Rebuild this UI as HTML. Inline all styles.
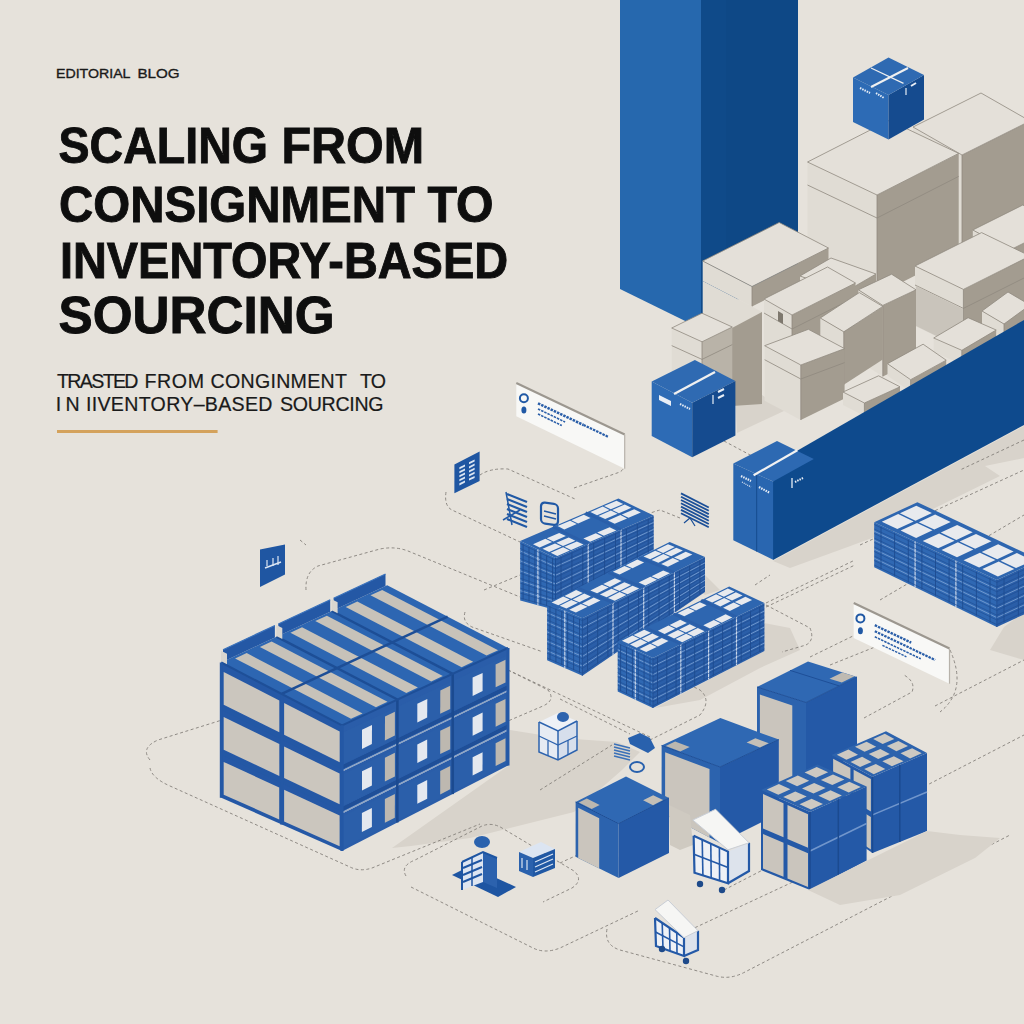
<!DOCTYPE html>
<html><head><meta charset="utf-8"><style>
html,body{margin:0;padding:0;background:#E6E2DB;}
body{width:1024px;height:1024px;overflow:hidden;position:relative;}
svg{position:absolute;left:0;top:0;}
</style></head><body>
<svg width="1024" height="1024" viewBox="0 0 1024 1024">
<rect width="1024" height="1024" fill="#E6E2DB"/>
<polygon points="392.0,848.0 508.0,766.0 510.0,730.0 560.0,738.0 617.0,742.0 640.0,752.0 622.0,770.0 574.0,812.0 470.0,838.0 411.0,846.0" fill="#D8D3CB" />
<polygon points="653.0,556.0 705.0,575.0 720.0,590.0 705.0,595.0" fill="#D8D3CB" />
<polygon points="735.6,402.8 762.0,395.0 785.0,410.5 737.0,433.0" fill="#D8D3CB" />
<polygon points="764.0,623.0 790.0,628.0 800.0,650.0 760.0,668.0 700.0,700.0 655.0,708.0 764.0,651.0" fill="#D8D3CB" />
<polygon points="773.0,561.0 1024.0,426.0 1024.0,458.0 985.0,466.0 1000.0,476.0 880.0,535.0 845.0,548.0 790.0,568.0" fill="#D8D3CB" />
<polygon points="1004.0,627.0 1024.0,612.0 1024.0,660.0 990.0,650.0" fill="#D8D3CB" />
<path d="M480,475 Q490,468 508,469 L575,499" fill="none" stroke="#85807A" stroke-width="0.9" stroke-dasharray="3 2.5"/>
<path d="M446,492 Q444,506 452,510 L520,542" fill="none" stroke="#85807A" stroke-width="0.9" stroke-dasharray="3 2.5"/>
<path d="M574,488 L620,472 Q626,468 624,462" fill="none" stroke="#85807A" stroke-width="0.9" stroke-dasharray="3 2.5"/>
<path d="M306,590 Q305,572 318,566 L380,549 Q395,546 408,551 L520,597" fill="none" stroke="#85807A" stroke-width="0.9" stroke-dasharray="3 2.5"/>
<path d="M484,590 L520,575" fill="none" stroke="#85807A" stroke-width="0.9" stroke-dasharray="3 2.5"/>
<path d="M465,612 Q462,622 472,627 L543,652" fill="none" stroke="#85807A" stroke-width="0.9" stroke-dasharray="3 2.5"/>
<path d="M508,670 L548,690 Q556,700 543,706 L508,721" fill="none" stroke="#85807A" stroke-width="0.9" stroke-dasharray="3 2.5"/>
<path d="M508,670 L650,737" fill="none" stroke="#85807A" stroke-width="0.9" stroke-dasharray="3 2.5"/>
<path d="M300,540 L306,545" fill="none" stroke="#85807A" stroke-width="0.9" stroke-dasharray="3 2.5"/>
<path d="M150,760 Q140,748 158,740 L222,720" fill="none" stroke="#85807A" stroke-width="0.9" stroke-dasharray="3 2.5"/>
<path d="M150,768 Q152,778 170,786 L350,867 Q360,872 372,868 L480,824" fill="none" stroke="#85807A" stroke-width="0.9" stroke-dasharray="3 2.5"/>
<path d="M406,876 Q400,866 415,860 L482,826 Q492,822 502,828 L574,871 Q584,880 572,888 L543,902" fill="none" stroke="#85807A" stroke-width="0.9" stroke-dasharray="3 2.5"/>
<path d="M411,887 L533,948 Q545,954 560,948 L640,910" fill="none" stroke="#85807A" stroke-width="0.9" stroke-dasharray="3 2.5"/>
<path d="M560,699 L630,734" fill="none" stroke="#85807A" stroke-width="0.9" stroke-dasharray="3 2.5"/>
<path d="M540,790 L612,745" fill="none" stroke="#85807A" stroke-width="0.9" stroke-dasharray="3 2.5"/>
<path d="M560,863 L610,840" fill="none" stroke="#85807A" stroke-width="0.9" stroke-dasharray="3 2.5"/>
<path d="M607,929 Q604,945 620,950 L716,976 Q730,980 745,972 L1010,835" fill="none" stroke="#85807A" stroke-width="0.9" stroke-dasharray="3 2.5"/>
<path d="M690,930 L840,860" fill="none" stroke="#85807A" stroke-width="0.9" stroke-dasharray="3 2.5"/>
<path d="M724,890 L1024,735" fill="none" stroke="#85807A" stroke-width="0.9" stroke-dasharray="3 2.5"/>
<path d="M864,718 L912,692 Q916,682 904,675" fill="none" stroke="#85807A" stroke-width="0.9" stroke-dasharray="3 2.5"/>
<path d="M935,706 L1024,660" fill="none" stroke="#85807A" stroke-width="0.9" stroke-dasharray="3 2.5"/>
<path d="M950,650 Q968,690 940,712" fill="none" stroke="#85807A" stroke-width="0.9" stroke-dasharray="3 2.5"/>
<path d="M680,518 L660,510 Q640,515 600,540" fill="none" stroke="#85807A" stroke-width="0.9" stroke-dasharray="3 2.5"/>
<path d="M755,585 L770,575" fill="none" stroke="#85807A" stroke-width="0.9" stroke-dasharray="3 2.5"/>
<path d="M880,600 L1024,515" fill="none" stroke="#85807A" stroke-width="0.9" stroke-dasharray="3 2.5"/>
<path d="M766,603 L855,560" fill="none" stroke="#85807A" stroke-width="0.9" stroke-dasharray="3 2.5"/>
<path d="M766,607 L855,565" fill="none" stroke="#85807A" stroke-width="0.9" stroke-dasharray="3 2.5"/>
<path d="M766,605 L810,628 Q815,640 806,645 L782,652" fill="none" stroke="#85807A" stroke-width="0.9" stroke-dasharray="3 2.5"/>
<path d="M810,657 L855,635" fill="none" stroke="#85807A" stroke-width="0.9" stroke-dasharray="3 2.5"/>
<path d="M830,665 L875,647" fill="none" stroke="#85807A" stroke-width="0.9" stroke-dasharray="3 2.5"/>
<path d="M640,745 L700,715 Q712,700 700,690 L680,680" fill="none" stroke="#85807A" stroke-width="0.9" stroke-dasharray="3 2.5"/>
<path d="M724,441 L752,456" fill="none" stroke="#85807A" stroke-width="0.9" stroke-dasharray="3 2.5"/>
<path d="M860,545 L1024,470" fill="none" stroke="#85807A" stroke-width="0.9" stroke-dasharray="3 2.5"/>
<path d="M1024,440 L960,470" fill="none" stroke="#85807A" stroke-width="0.9" stroke-dasharray="3 2.5"/>
<path d="M645,830 L700,800" fill="none" stroke="#85807A" stroke-width="0.9" stroke-dasharray="3 2.5"/>
<polygon points="620.0,0.0 701.0,0.0 701.0,328.7 620.0,289.0" fill="#2668AE" />
<polygon points="701.0,0.0 798.0,0.0 798.0,266.0 701.0,320.0" fill="#0F4A89" />
<polygon points="726.0,0.0 798.0,0.0 798.0,266.0 726.0,306.0" fill="#0E4886" />
<polygon points="913.0,127.0 962.0,155.0 962.0,250.0 913.0,222.0" fill="#E0DCD4" />
<polygon points="962.0,155.0 1030.0,121.0 1030.0,216.0 962.0,250.0" fill="#A39C90" />
<polygon points="913.0,127.0 981.0,93.0 1030.0,121.0 962.0,155.0" fill="#E4E0D9" />
<polyline points="913.0,127.0 981.0,93.0 1030.0,121.0 962.0,155.0 913.0,127.0" fill="none" stroke="#8F897F" stroke-width="0.8" />
<polyline points="962.0,155.0 962.0,250.0" fill="none" stroke="#8F897F" stroke-width="0.8" />
<polygon points="807.5,162.0 877.0,195.0 877.0,295.0 807.5,262.0" fill="#E0DCD4" />
<polygon points="877.0,195.0 958.7,153.4 958.7,253.4 877.0,295.0" fill="#A39C90" />
<polygon points="807.5,162.0 889.2,120.4 958.7,153.4 877.0,195.0" fill="#E4E0D9" />
<polyline points="807.5,162.0 889.2,120.4 958.7,153.4 877.0,195.0 807.5,162.0" fill="none" stroke="#8F897F" stroke-width="0.8" />
<polyline points="877.0,195.0 877.0,295.0" fill="none" stroke="#8F897F" stroke-width="0.8" />
<polyline points="807.5,185.0 877.0,218.0 958.7,176.4" fill="none" stroke="#8F897F" stroke-width="0.8" />
<polygon points="972.8,230.0 1010.0,250.0 1010.0,290.0 972.8,270.0" fill="#E0DCD4" />
<polygon points="1010.0,250.0 1060.0,225.0 1060.0,265.0 1010.0,290.0" fill="#A39C90" />
<polygon points="972.8,230.0 1022.8,205.0 1060.0,225.0 1010.0,250.0" fill="#E4E0D9" />
<polyline points="972.8,230.0 1022.8,205.0 1060.0,225.0 1010.0,250.0 972.8,230.0" fill="none" stroke="#8F897F" stroke-width="0.8" />
<polyline points="1010.0,250.0 1010.0,290.0" fill="none" stroke="#8F897F" stroke-width="0.8" />
<polygon points="915.0,266.0 963.4,289.4 963.4,349.4 915.0,326.0" fill="#E0DCD4" />
<polygon points="963.4,289.4 1030.0,256.0 1030.0,316.0 963.4,349.4" fill="#A39C90" />
<polygon points="915.0,266.0 981.6,232.6 1030.0,256.0 963.4,289.4" fill="#E4E0D9" />
<polyline points="915.0,266.0 981.6,232.6 1030.0,256.0 963.4,289.4 915.0,266.0" fill="none" stroke="#8F897F" stroke-width="0.8" />
<polyline points="963.4,289.4 963.4,349.4" fill="none" stroke="#8F897F" stroke-width="0.8" />
<polyline points="915.0,285.0 963.4,308.4 1030.0,275.0" fill="none" stroke="#8F897F" stroke-width="0.8" />
<polygon points="916.0,286.0 963.0,309.0 963.0,349.0 916.0,326.0" fill="#C9C4BB" />
<polygon points="702.7,261.0 752.0,286.5 752.0,306.5 702.7,281.0" fill="#E0DCD4" />
<polygon points="752.0,286.5 828.5,248.0 828.5,268.0 752.0,306.5" fill="#A39C90" />
<polygon points="702.7,261.0 779.2,222.5 828.5,248.0 752.0,286.5" fill="#E4E0D9" />
<polyline points="702.7,261.0 779.2,222.5 828.5,248.0 752.0,286.5 702.7,261.0" fill="none" stroke="#8F897F" stroke-width="0.8" />
<polyline points="752.0,286.5 752.0,306.5" fill="none" stroke="#8F897F" stroke-width="0.8" />
<polygon points="702.7,281.0 752.0,306.5 762.0,312.0 762.0,404.0 702.7,404.0" fill="#E0DCD4" />
<polygon points="732.0,328.0 762.0,312.0 762.0,404.0 732.0,406.0" fill="#A39C90" />
<polygon points="800.0,276.0 845.0,292.0 845.0,322.0 800.0,306.0" fill="#E0DCD4" />
<polygon points="845.0,292.0 876.0,274.0 876.0,304.0 845.0,322.0" fill="#A39C90" />
<polygon points="800.0,276.0 831.0,258.0 876.0,274.0 845.0,292.0" fill="#E4E0D9" />
<polyline points="800.0,276.0 831.0,258.0 876.0,274.0 845.0,292.0 800.0,276.0" fill="none" stroke="#8F897F" stroke-width="0.8" />
<polyline points="845.0,292.0 845.0,322.0" fill="none" stroke="#8F897F" stroke-width="0.8" />
<polygon points="764.0,299.0 792.0,315.0 792.0,360.0 764.0,344.0" fill="#E0DCD4" />
<polygon points="792.0,315.0 855.5,283.0 855.5,328.0 792.0,360.0" fill="#A39C90" />
<polygon points="764.0,299.0 827.5,267.0 855.5,283.0 792.0,315.0" fill="#E4E0D9" />
<polyline points="764.0,299.0 827.5,267.0 855.5,283.0 792.0,315.0 764.0,299.0" fill="none" stroke="#8F897F" stroke-width="0.8" />
<polyline points="792.0,315.0 792.0,360.0" fill="none" stroke="#8F897F" stroke-width="0.8" />
<polyline points="764.0,313.0 792.0,329.0 855.5,297.0" fill="none" stroke="#8F897F" stroke-width="0.8" />
<polygon points="778.0,311.0 783.0,314.0 783.0,324.0 778.0,321.0" fill="#7E786E" />
<polygon points="858.4,289.8 882.8,305.4 882.8,376.4 858.4,360.8" fill="#E0DCD4" />
<polygon points="882.8,305.4 916.0,289.8 916.0,360.8 882.8,376.4" fill="#A39C90" />
<polygon points="858.4,289.8 891.6,274.2 916.0,289.8 882.8,305.4" fill="#E4E0D9" />
<polyline points="858.4,289.8 891.6,274.2 916.0,289.8 882.8,305.4 858.4,289.8" fill="none" stroke="#8F897F" stroke-width="0.8" />
<polyline points="882.8,305.4 882.8,376.4" fill="none" stroke="#8F897F" stroke-width="0.8" />
<polygon points="820.3,318.0 843.8,331.8 843.8,384.8 820.3,371.0" fill="#E0DCD4" />
<polygon points="843.8,331.8 882.8,306.4 882.8,359.4 843.8,384.8" fill="#A39C90" />
<polygon points="820.3,318.0 859.3,292.6 882.8,306.4 843.8,331.8" fill="#E4E0D9" />
<polyline points="820.3,318.0 859.3,292.6 882.8,306.4 843.8,331.8 820.3,318.0" fill="none" stroke="#8F897F" stroke-width="0.8" />
<polyline points="843.8,331.8 843.8,384.8" fill="none" stroke="#8F897F" stroke-width="0.8" />
<polygon points="671.7,328.0 702.0,341.8 702.0,401.8 671.7,388.0" fill="#E0DCD4" />
<polygon points="702.0,341.8 732.3,327.0 732.3,387.0 702.0,401.8" fill="#B9B3A8" />
<polygon points="671.7,328.0 702.0,313.2 732.3,327.0 702.0,341.8" fill="#E4E0D9" />
<polyline points="671.7,328.0 702.0,313.2 732.3,327.0 702.0,341.8 671.7,328.0" fill="none" stroke="#8F897F" stroke-width="0.8" />
<polyline points="702.0,341.8 702.0,401.8" fill="none" stroke="#8F897F" stroke-width="0.8" />
<polyline points="671.7,345.6 702.0,359.4 732.3,344.6" fill="none" stroke="#8F897F" stroke-width="0.8" />
<polygon points="764.6,345.7 800.8,365.0 800.8,420.0 764.6,400.7" fill="#E0DCD4" />
<polygon points="800.8,365.0 844.6,348.6 844.6,398.6 800.8,420.0" fill="#A39C90" />
<polygon points="764.6,345.7 808.4,329.3 844.6,348.6 800.8,365.0" fill="#E4E0D9" />
<polyline points="764.6,345.7 808.4,329.3 844.6,348.6 800.8,365.0 764.6,345.7" fill="none" stroke="#8F897F" stroke-width="0.8" />
<polyline points="800.8,365.0 800.8,420.0" fill="none" stroke="#8F897F" stroke-width="0.8" />
<polyline points="764.6,359.7 800.8,379.0 844.6,362.6" fill="none" stroke="#8F897F" stroke-width="0.8" />
<polygon points="982.0,311.0 1004.0,324.0 1004.0,338.0 982.0,325.0" fill="#E0DCD4" />
<polygon points="1004.0,324.0 1030.0,305.0 1030.0,319.0 1004.0,338.0" fill="#A39C90" />
<polygon points="982.0,311.0 1008.0,292.0 1030.0,305.0 1004.0,324.0" fill="#E4E0D9" />
<polyline points="982.0,311.0 1008.0,292.0 1030.0,305.0 1004.0,324.0 982.0,311.0" fill="none" stroke="#8F897F" stroke-width="0.8" />
<polyline points="1004.0,324.0 1004.0,338.0" fill="none" stroke="#8F897F" stroke-width="0.8" />
<polygon points="933.7,338.0 961.8,350.3 961.8,364.3 933.7,352.0" fill="#E0DCD4" />
<polygon points="961.8,350.3 996.2,330.0 996.2,344.0 961.8,364.3" fill="#A39C90" />
<polygon points="933.7,338.0 968.1,317.7 996.2,330.0 961.8,350.3" fill="#E4E0D9" />
<polyline points="933.7,338.0 968.1,317.7 996.2,330.0 961.8,350.3 933.7,338.0" fill="none" stroke="#8F897F" stroke-width="0.8" />
<polyline points="961.8,350.3 961.8,364.3" fill="none" stroke="#8F897F" stroke-width="0.8" />
<polygon points="887.5,363.7 910.6,379.7 910.6,391.7 887.5,375.7" fill="#E0DCD4" />
<polygon points="910.6,379.7 946.2,360.2 946.2,372.2 910.6,391.7" fill="#A39C90" />
<polygon points="887.5,363.7 923.1,344.2 946.2,360.2 910.6,379.7" fill="#E4E0D9" />
<polyline points="887.5,363.7 923.1,344.2 946.2,360.2 910.6,379.7 887.5,363.7" fill="none" stroke="#8F897F" stroke-width="0.8" />
<polyline points="910.6,379.7 910.6,391.7" fill="none" stroke="#8F897F" stroke-width="0.8" />
<polygon points="843.0,392.0 864.4,403.0 864.4,416.0 843.0,405.0" fill="#E0DCD4" />
<polygon points="864.4,403.0 900.0,386.8 900.0,399.8 864.4,416.0" fill="#A39C90" />
<polygon points="843.0,392.0 878.6,375.8 900.0,386.8 864.4,403.0" fill="#E4E0D9" />
<polyline points="843.0,392.0 878.6,375.8 900.0,386.8 864.4,403.0 843.0,392.0" fill="none" stroke="#8F897F" stroke-width="0.8" />
<polyline points="864.4,403.0 864.4,416.0" fill="none" stroke="#8F897F" stroke-width="0.8" />
<polygon points="773.0,481.6 798.0,450.3 1024.0,320.0 1024.0,425.0 773.0,560.0" fill="#0E4A8D" />
<polygon points="733.3,463.6 777.0,441.0 813.8,458.9 773.1,481.6" fill="#2D69B2" />
<polygon points="733.3,463.6 773.1,481.6 773.1,559.7 733.3,540.2" fill="#2966B0" />
<polyline points="756.7,474.0 756.7,551.5" fill="none" stroke="#164C8E" stroke-width="1" />
<polyline points="753.6,475.3 797.3,450.3" fill="none" stroke="#F2F2F2" stroke-width="2.2" />
<polygon points="853.0,77.5 888.5,95.0 888.5,139.6 853.0,122.1" fill="#2D6BB5" />
<polygon points="888.5,95.0 924.0,75.0 924.0,119.6 888.5,139.6" fill="#154B8F" />
<polygon points="853.0,77.5 888.5,57.5 924.0,75.0 888.5,95.0" fill="#2F6AB2" />
<polyline points="871.0,87.0 908.0,68.0" fill="none" stroke="#F0F0F0" stroke-width="2" />
<polyline points="871.0,68.0 903.5,83.4" fill="none" stroke="#F0F0F0" stroke-width="1.2" />
<polyline points="860.0,88.0 870.0,93.0" fill="none" stroke="#E8EEF6" stroke-width="2" stroke-dasharray="1.5 1"/>
<polyline points="876.0,93.0 884.0,98.0" fill="none" stroke="#E8EEF6" stroke-width="2" stroke-dasharray="1.5 1"/>
<polyline points="906.0,88.0 906.0,95.0" fill="none" stroke="#E8EEF6" stroke-width="1.2" />
<polyline points="911.0,86.0 916.0,83.0" fill="none" stroke="#E8EEF6" stroke-width="2" />
<polygon points="651.7,381.6 692.2,402.7 692.2,457.2 651.7,436.1" fill="#2D6BB5" />
<polygon points="692.2,402.7 735.4,381.0 735.4,435.5 692.2,457.2" fill="#154B8F" />
<polygon points="651.7,381.6 694.9,359.9 735.4,381.0 692.2,402.7" fill="#2F6AB2" />
<polyline points="674.0,394.0 715.0,372.0" fill="none" stroke="#F0F0F0" stroke-width="2.4" />
<polygon points="659.0,395.0 671.0,401.0 671.0,406.0 659.0,400.0" fill="#E8EEF6" />
<polyline points="680.0,404.0 690.0,409.0" fill="none" stroke="#E8EEF6" stroke-width="2" stroke-dasharray="1.5 1"/>
<polyline points="713.0,395.0 713.0,404.0" fill="none" stroke="#E8EEF6" stroke-width="1.2" />
<polyline points="718.0,392.0 724.0,389.0" fill="none" stroke="#E8EEF6" stroke-width="2" />
<polyline points="718.0,398.0 724.0,395.0" fill="none" stroke="#E8EEF6" stroke-width="2" />
<polygon points="516.3,382.9 624.7,434.4 624.7,468.8 516.3,416.2" fill="#F8F8F6" />
<polyline points="516.3,382.9 624.7,434.4" fill="none" stroke="#9C978F" stroke-width="2.2" />
<polyline points="624.7,434.4 624.7,468.8" fill="none" stroke="#B7B2AA" stroke-width="1.2" />
<polygon points="853.7,602.9 949.5,648.6 949.5,683.7 853.7,638.0" fill="#F8F8F6" />
<polyline points="853.7,602.9 949.5,648.6" fill="none" stroke="#9C978F" stroke-width="2.2" />
<polyline points="949.5,648.6 949.5,683.7" fill="none" stroke="#B7B2AA" stroke-width="1.2" />
<polygon points="221.3,662.5 342.1,725.3 342.0,851.0 221.3,797.8" fill="#2558A6" />
<polygon points="342.1,725.3 508.0,648.0 508.0,765.6 342.0,851.0" fill="#2A5DA9" />
<polygon points="221.3,662.5 387.2,585.2 508.0,648.0 342.1,725.3" fill="#2D66B2" />
<polygon points="223.7,671.9 279.3,700.5 279.3,732.3 223.7,704.7" fill="#CBC6BE" />
<polygon points="223.7,716.9 279.3,744.0 279.3,775.9 223.7,749.8" fill="#CBC6BE" />
<polygon points="223.7,761.9 279.2,787.6 279.2,819.4 223.7,794.8" fill="#CBC6BE" />
<polygon points="284.1,703.0 339.7,731.6 339.7,762.2 284.1,734.7" fill="#CBC6BE" />
<polygon points="284.1,746.4 339.6,773.6 339.6,804.2 284.1,778.1" fill="#CBC6BE" />
<polygon points="284.1,789.8 339.6,815.5 339.6,846.2 284.1,821.6" fill="#CBC6BE" />
<polygon points="343.8,732.1 395.7,707.7 395.7,738.9 343.7,763.9" fill="#2B5FAA" />
<polygon points="385.0,716.5 394.9,711.8 394.9,735.6 384.9,740.4" fill="#BDB8B0" />
<polygon points="362.0,729.7 372.0,725.1 371.9,744.1 362.0,748.9" fill="#E4E8EF" />
<polygon points="343.7,773.9 395.7,748.7 395.7,779.9 343.7,805.8" fill="#2B5FAA" />
<polygon points="384.9,757.7 394.9,752.8 394.9,776.6 384.9,781.6" fill="#BDB8B0" />
<polygon points="362.0,771.3 371.9,766.5 371.9,785.5 362.0,790.4" fill="#E4E8EF" />
<polygon points="343.7,815.8 395.7,789.7 395.7,820.9 343.7,847.6" fill="#2B5FAA" />
<polygon points="384.9,798.9 394.9,793.9 394.8,817.7 384.9,822.8" fill="#BDB8B0" />
<polygon points="361.9,812.9 371.9,807.9 371.9,826.9 361.9,832.0" fill="#E4E8EF" />
<polyline points="342.1,767.2 508.0,687.2" fill="none" stroke="#1F4F98" stroke-width="3" />
<polyline points="342.1,771.0 508.0,690.7" fill="none" stroke="#8FA6C6" stroke-width="1.2" />
<polyline points="342.0,809.1 508.0,726.4" fill="none" stroke="#1F4F98" stroke-width="3" />
<polyline points="342.0,812.9 508.0,729.9" fill="none" stroke="#8FA6C6" stroke-width="1.2" />
<polygon points="399.1,706.1 451.0,681.8 451.0,712.3 399.0,737.3" fill="#2B5FAA" />
<polygon points="440.3,690.4 450.2,685.8 450.2,709.0 440.2,713.8" fill="#BDB8B0" />
<polygon points="417.3,703.7 427.3,699.0 427.2,717.6 417.3,722.4" fill="#E4E8EF" />
<polygon points="399.0,747.1 451.0,721.9 451.0,752.4 399.0,778.2" fill="#2B5FAA" />
<polygon points="440.2,730.7 450.2,725.9 450.2,749.2 440.2,754.1" fill="#BDB8B0" />
<polygon points="417.3,744.4 427.2,739.5 427.2,758.1 417.3,763.1" fill="#E4E8EF" />
<polygon points="399.0,788.1 451.0,762.0 451.0,792.5 399.0,819.2" fill="#2B5FAA" />
<polygon points="440.2,771.1 450.2,766.0 450.2,789.3 440.2,794.4" fill="#BDB8B0" />
<polygon points="417.3,785.0 427.2,780.0 427.2,798.7 417.3,803.7" fill="#E4E8EF" />
<polyline points="342.1,767.2 508.0,687.2" fill="none" stroke="#1F4F98" stroke-width="3" />
<polyline points="342.1,771.0 508.0,690.7" fill="none" stroke="#8FA6C6" stroke-width="1.2" />
<polyline points="342.0,809.1 508.0,726.4" fill="none" stroke="#1F4F98" stroke-width="3" />
<polyline points="342.0,812.9 508.0,729.9" fill="none" stroke="#8FA6C6" stroke-width="1.2" />
<polygon points="454.4,680.2 506.3,655.8 506.3,685.6 454.3,710.7" fill="#2B5FAA" />
<polygon points="495.6,664.4 505.5,659.8 505.5,682.5 495.6,687.3" fill="#BDB8B0" />
<polygon points="472.6,677.6 482.6,672.9 482.6,691.1 472.6,695.9" fill="#E4E8EF" />
<polygon points="454.3,720.3 506.3,695.1 506.3,724.9 454.3,750.7" fill="#2B5FAA" />
<polygon points="495.6,703.8 505.5,699.0 505.5,721.8 495.6,726.7" fill="#BDB8B0" />
<polygon points="472.6,717.4 482.6,712.5 482.6,730.8 472.6,735.7" fill="#E4E8EF" />
<polygon points="454.3,760.4 506.3,734.3 506.3,764.1 454.3,790.8" fill="#2B5FAA" />
<polygon points="495.6,743.2 505.5,738.2 505.5,761.0 495.6,766.1" fill="#BDB8B0" />
<polygon points="472.6,757.2 482.6,752.2 482.5,770.4 472.6,775.5" fill="#E4E8EF" />
<polyline points="342.1,767.2 508.0,687.2" fill="none" stroke="#1F4F98" stroke-width="3" />
<polyline points="342.1,771.0 508.0,690.7" fill="none" stroke="#8FA6C6" stroke-width="1.2" />
<polyline points="342.0,809.1 508.0,726.4" fill="none" stroke="#1F4F98" stroke-width="3" />
<polyline points="342.0,812.9 508.0,729.9" fill="none" stroke="#8FA6C6" stroke-width="1.2" />
<polyline points="397.4,699.5 397.3,822.5" fill="none" stroke="#1B4A90" stroke-width="2.5" />
<polyline points="452.7,673.8 452.7,794.1" fill="none" stroke="#1B4A90" stroke-width="2.5" />
<polyline points="221.3,707.6 342.1,767.2" fill="none" stroke="#2458A5" stroke-width="4" />
<polyline points="221.3,752.7 342.0,809.1" fill="none" stroke="#2458A5" stroke-width="4" />
<polyline points="281.7,693.9 281.6,824.4" fill="none" stroke="#2458A5" stroke-width="3" />
<polygon points="382.2,589.9 498.1,650.2 486.5,655.6 370.5,595.3" fill="#C7C2B9" />
<polygon points="357.3,601.5 473.2,661.8 461.6,667.2 345.7,606.9" fill="#C7C2B9" />
<polygon points="326.9,615.7 442.8,676.0 431.2,681.4 315.2,621.1" fill="#C7C2B9" />
<polygon points="302.0,627.3 417.9,687.6 406.3,693.0 290.4,632.7" fill="#C7C2B9" />
<polygon points="271.6,641.5 387.5,701.8 375.9,707.2 259.9,646.9" fill="#C7C2B9" />
<polygon points="246.7,653.1 362.6,713.4 351.0,718.8 235.1,658.5" fill="#C7C2B9" />
<polyline points="331.9,611.0 452.7,673.8" fill="none" stroke="#1D4E96" stroke-width="2.5" />
<polyline points="276.6,636.7 397.4,699.5" fill="none" stroke="#1D4E96" stroke-width="2.5" />
<polyline points="447.6,616.6 281.7,693.9" fill="none" stroke="#1D4E96" stroke-width="2.5" />
<polygon points="385.5,586.0 333.6,610.2 333.6,598.2 385.5,574.0" fill="#2458A5" />
<polyline points="385.5,574.0 333.6,598.2" fill="none" stroke="#3A72BC" stroke-width="1.2" />
<polygon points="331.6,599.2 337.6,602.2 337.6,613.2 331.6,610.2" fill="#D9D6D0" />
<polygon points="330.2,611.7 278.3,636.0 278.3,624.0 330.2,599.7" fill="#2458A5" />
<polyline points="330.2,599.7 278.3,624.0" fill="none" stroke="#3A72BC" stroke-width="1.2" />
<polygon points="276.3,625.0 282.3,628.0 282.3,639.0 276.3,636.0" fill="#D9D6D0" />
<polygon points="274.9,637.5 223.0,661.7 223.0,649.7 274.9,625.5" fill="#2458A5" />
<polyline points="274.9,625.5 223.0,649.7" fill="none" stroke="#3A72BC" stroke-width="1.2" />
<polygon points="221.0,650.7 227.0,653.7 227.0,664.7 221.0,661.7" fill="#D9D6D0" />
<polyline points="221.3,662.5 342.1,725.3 508.0,648.0" fill="none" stroke="#1E4F98" stroke-width="2" />
<polyline points="221.3,662.5 221.3,797.8" fill="none" stroke="#2458A5" stroke-width="3" />
<polyline points="342.1,725.3 342.0,851.0" fill="none" stroke="#2458A5" stroke-width="3" />
<polyline points="508.0,648.0 508.0,765.6" fill="none" stroke="#2458A5" stroke-width="3" />
<polygon points="520.2,541.0 555.5,558.0 555.5,610.0 520.2,600.5" fill="#2F68B3" />
<polygon points="555.5,558.0 653.7,515.6 653.7,556.6 555.5,610.0" fill="#2A5EA8" />
<polygon points="520.2,541.0 618.4,498.6 653.7,515.6 555.5,558.0" fill="#2E66B0" />
<polygon points="616.5,500.7 623.2,503.9 610.8,509.3 604.1,506.1" fill="#E8EAEE" />
<polygon points="602.8,506.6 609.5,509.9 597.1,515.2 590.4,512.0" fill="#E8EAEE" />
<polygon points="624.7,504.6 631.4,507.8 618.9,513.2 612.2,510.0" fill="#E8EAEE" />
<polygon points="610.9,510.5 617.6,513.8 605.2,519.1 598.5,515.9" fill="#E8EAEE" />
<polygon points="583.8,514.8 590.5,518.1 578.1,523.4 571.4,520.2" fill="#E8EAEE" />
<polygon points="570.1,520.8 576.8,524.0 564.3,529.4 557.6,526.1" fill="#E8EAEE" />
<polygon points="559.2,532.9 565.9,536.1 553.5,541.5 546.8,538.2" fill="#E8EAEE" />
<polygon points="545.4,538.8 552.1,542.0 539.7,547.4 533.0,544.2" fill="#E8EAEE" />
<polygon points="634.2,509.2 640.9,512.4 628.5,517.8 621.8,514.6" fill="#E8EAEE" />
<polygon points="620.4,515.1 627.1,518.4 614.7,523.7 608.0,520.5" fill="#E8EAEE" />
<polygon points="609.6,527.2 616.3,530.5 603.8,535.8 597.1,532.6" fill="#E8EAEE" />
<polygon points="595.8,533.2 602.5,536.4 590.1,541.8 583.4,538.5" fill="#E8EAEE" />
<polygon points="568.7,537.5 575.4,540.7 563.0,546.1 556.3,542.8" fill="#E8EAEE" />
<polygon points="555.0,543.4 561.7,546.6 549.2,552.0 542.5,548.8" fill="#E8EAEE" />
<polygon points="576.8,541.4 583.5,544.6 571.1,550.0 564.4,546.7" fill="#E8EAEE" />
<polygon points="563.1,547.3 569.8,550.5 557.4,555.9 550.7,552.7" fill="#E8EAEE" />
<polyline points="520.2,550.9 555.5,566.7" fill="none" stroke="#7FA3D4" stroke-width="0.8" />
<polyline points="555.5,566.7 653.7,522.4" fill="none" stroke="#7FA3D4" stroke-width="0.8" />
<polyline points="520.2,560.8 555.5,575.3" fill="none" stroke="#7FA3D4" stroke-width="0.8" />
<polyline points="555.5,575.3 653.7,529.3" fill="none" stroke="#7FA3D4" stroke-width="0.8" />
<polyline points="520.2,570.8 555.5,584.0" fill="none" stroke="#7FA3D4" stroke-width="0.8" />
<polyline points="555.5,584.0 653.7,536.1" fill="none" stroke="#7FA3D4" stroke-width="0.8" />
<polyline points="520.2,580.7 555.5,592.7" fill="none" stroke="#7FA3D4" stroke-width="0.8" />
<polyline points="555.5,592.7 653.7,542.9" fill="none" stroke="#7FA3D4" stroke-width="0.8" />
<polyline points="520.2,590.6 555.5,601.3" fill="none" stroke="#7FA3D4" stroke-width="0.8" />
<polyline points="555.5,601.3 653.7,549.8" fill="none" stroke="#7FA3D4" stroke-width="0.8" />
<polyline points="588.2,543.9 588.2,592.2" fill="none" stroke="#C9D6EA" stroke-width="1.2" />
<polyline points="621.0,529.7 621.0,574.4" fill="none" stroke="#C9D6EA" stroke-width="1.2" />
<polyline points="537.9,549.5 537.9,605.2" fill="none" stroke="#C9D6EA" stroke-width="1.2" />
<polyline points="561.0,557.2 561.0,605.5" fill="none" stroke="#1E4C90" stroke-width="0.9" />
<polyline points="571.9,552.4 571.9,599.6" fill="none" stroke="#1E4C90" stroke-width="0.9" />
<polyline points="582.8,547.7 582.8,593.7" fill="none" stroke="#1E4C90" stroke-width="0.9" />
<polyline points="593.7,542.9 593.7,587.8" fill="none" stroke="#1E4C90" stroke-width="0.9" />
<polyline points="604.6,538.2 604.6,581.9" fill="none" stroke="#1E4C90" stroke-width="0.9" />
<polyline points="615.5,533.4 615.5,576.0" fill="none" stroke="#1E4C90" stroke-width="0.9" />
<polyline points="626.4,528.7 626.4,570.1" fill="none" stroke="#1E4C90" stroke-width="0.9" />
<polyline points="637.3,524.0 637.3,564.2" fill="none" stroke="#1E4C90" stroke-width="0.9" />
<polyline points="648.2,519.2 648.2,558.3" fill="none" stroke="#1E4C90" stroke-width="0.9" />
<polyline points="523.1,544.2 523.1,599.5" fill="none" stroke="#1E4C90" stroke-width="0.9" />
<polyline points="529.0,547.0 529.0,601.1" fill="none" stroke="#1E4C90" stroke-width="0.9" />
<polyline points="534.9,549.8 534.9,602.8" fill="none" stroke="#1E4C90" stroke-width="0.9" />
<polyline points="540.8,552.6 540.8,604.4" fill="none" stroke="#1E4C90" stroke-width="0.9" />
<polyline points="546.7,555.4 546.7,606.0" fill="none" stroke="#1E4C90" stroke-width="0.9" />
<polyline points="552.6,558.2 552.6,607.6" fill="none" stroke="#1E4C90" stroke-width="0.9" />
<polyline points="520.2,543.5 555.5,560.2" fill="none" stroke="#1E4C90" stroke-width="0.6" />
<polyline points="555.5,560.2 653.7,517.3" fill="none" stroke="#1E4C90" stroke-width="0.6" />
<polyline points="520.2,548.4 555.5,564.5" fill="none" stroke="#1E4C90" stroke-width="0.6" />
<polyline points="555.5,564.5 653.7,520.7" fill="none" stroke="#1E4C90" stroke-width="0.6" />
<polyline points="520.2,553.4 555.5,568.8" fill="none" stroke="#1E4C90" stroke-width="0.6" />
<polyline points="555.5,568.8 653.7,524.1" fill="none" stroke="#1E4C90" stroke-width="0.6" />
<polyline points="520.2,558.4 555.5,573.2" fill="none" stroke="#1E4C90" stroke-width="0.6" />
<polyline points="555.5,573.2 653.7,527.6" fill="none" stroke="#1E4C90" stroke-width="0.6" />
<polyline points="520.2,563.3 555.5,577.5" fill="none" stroke="#1E4C90" stroke-width="0.6" />
<polyline points="555.5,577.5 653.7,531.0" fill="none" stroke="#1E4C90" stroke-width="0.6" />
<polyline points="520.2,568.3 555.5,581.8" fill="none" stroke="#1E4C90" stroke-width="0.6" />
<polyline points="555.5,581.8 653.7,534.4" fill="none" stroke="#1E4C90" stroke-width="0.6" />
<polyline points="520.2,573.2 555.5,586.2" fill="none" stroke="#1E4C90" stroke-width="0.6" />
<polyline points="555.5,586.2 653.7,537.8" fill="none" stroke="#1E4C90" stroke-width="0.6" />
<polyline points="520.2,578.2 555.5,590.5" fill="none" stroke="#1E4C90" stroke-width="0.6" />
<polyline points="555.5,590.5 653.7,541.2" fill="none" stroke="#1E4C90" stroke-width="0.6" />
<polyline points="520.2,583.1 555.5,594.8" fill="none" stroke="#1E4C90" stroke-width="0.6" />
<polyline points="555.5,594.8 653.7,544.6" fill="none" stroke="#1E4C90" stroke-width="0.6" />
<polyline points="520.2,588.1 555.5,599.2" fill="none" stroke="#1E4C90" stroke-width="0.6" />
<polyline points="555.5,599.2 653.7,548.1" fill="none" stroke="#1E4C90" stroke-width="0.6" />
<polyline points="520.2,593.1 555.5,603.5" fill="none" stroke="#1E4C90" stroke-width="0.6" />
<polyline points="555.5,603.5 653.7,551.5" fill="none" stroke="#1E4C90" stroke-width="0.6" />
<polyline points="520.2,598.0 555.5,607.8" fill="none" stroke="#1E4C90" stroke-width="0.6" />
<polyline points="555.5,607.8 653.7,554.9" fill="none" stroke="#1E4C90" stroke-width="0.6" />
<polyline points="585.7,512.7 621.0,529.7" fill="none" stroke="#2B5FA9" stroke-width="2.5" />
<polyline points="552.9,526.9 588.2,543.9" fill="none" stroke="#2B5FA9" stroke-width="2.5" />
<polyline points="555.5,558.0 555.5,610.0" fill="none" stroke="#1C4E96" stroke-width="1" />
<polygon points="547.1,603.3 582.4,618.2 582.4,675.7 547.1,660.3" fill="#2F68B3" />
<polygon points="582.4,618.2 705.0,557.0 705.0,592.0 582.4,675.7" fill="#2A5EA8" />
<polygon points="547.1,603.3 669.7,542.1 705.0,557.0 582.4,618.2" fill="#2E66B0" />
<polygon points="668.0,544.2 674.8,547.1 663.1,552.9 656.4,550.0" fill="#E8EAEE" />
<polygon points="655.2,550.7 661.9,553.5 650.2,559.3 643.5,556.5" fill="#E8EAEE" />
<polygon points="676.2,547.7 682.9,550.5 671.2,556.3 664.5,553.5" fill="#E8EAEE" />
<polygon points="663.3,554.1 670.0,556.9 658.4,562.7 651.6,559.9" fill="#E8EAEE" />
<polygon points="637.4,559.5 644.1,562.4 632.5,568.2 625.8,565.3" fill="#E8EAEE" />
<polygon points="624.5,566.0 631.2,568.8 619.6,574.6 612.9,571.8" fill="#E8EAEE" />
<polygon points="614.9,578.3 621.6,581.1 609.9,586.9 603.2,584.1" fill="#E8EAEE" />
<polygon points="602.0,584.7 608.7,587.5 597.1,593.3 590.3,590.5" fill="#E8EAEE" />
<polygon points="576.1,590.1 582.8,593.0 571.2,598.8 564.5,595.9" fill="#E8EAEE" />
<polygon points="563.2,596.6 569.9,599.4 558.3,605.2 551.6,602.4" fill="#E8EAEE" />
<polygon points="584.2,593.6 590.9,596.4 579.3,602.2 572.6,599.4" fill="#E8EAEE" />
<polygon points="571.3,600.0 578.0,602.8 566.4,608.6 559.7,605.8" fill="#E8EAEE" />
<polygon points="685.7,551.7 692.4,554.5 680.8,560.3 674.0,557.5" fill="#E8EAEE" />
<polygon points="672.8,558.1 679.5,560.9 667.9,566.7 661.2,563.9" fill="#E8EAEE" />
<polygon points="663.2,570.4 669.9,573.2 658.2,579.0 651.5,576.2" fill="#E8EAEE" />
<polygon points="650.3,576.8 657.0,579.7 645.4,585.5 638.6,582.6" fill="#E8EAEE" />
<polygon points="624.4,582.3 631.1,585.1 619.5,590.9 612.8,588.1" fill="#E8EAEE" />
<polygon points="611.5,588.7 618.2,591.5 606.6,597.3 599.9,594.5" fill="#E8EAEE" />
<polygon points="632.5,585.7 639.2,588.5 627.6,594.3 620.9,591.5" fill="#E8EAEE" />
<polygon points="619.6,592.1 626.3,595.0 614.7,600.8 608.0,597.9" fill="#E8EAEE" />
<polygon points="593.7,597.6 600.5,600.4 588.8,606.2 582.1,603.4" fill="#E8EAEE" />
<polygon points="580.9,604.0 587.6,606.8 575.9,612.6 569.2,609.8" fill="#E8EAEE" />
<polyline points="547.1,612.8 582.4,627.8" fill="none" stroke="#7FA3D4" stroke-width="0.8" />
<polyline points="582.4,627.8 705.0,562.8" fill="none" stroke="#7FA3D4" stroke-width="0.8" />
<polyline points="547.1,622.3 582.4,637.4" fill="none" stroke="#7FA3D4" stroke-width="0.8" />
<polyline points="582.4,637.4 705.0,568.7" fill="none" stroke="#7FA3D4" stroke-width="0.8" />
<polyline points="547.1,631.8 582.4,647.0" fill="none" stroke="#7FA3D4" stroke-width="0.8" />
<polyline points="582.4,647.0 705.0,574.5" fill="none" stroke="#7FA3D4" stroke-width="0.8" />
<polyline points="547.1,641.3 582.4,656.5" fill="none" stroke="#7FA3D4" stroke-width="0.8" />
<polyline points="582.4,656.5 705.0,580.3" fill="none" stroke="#7FA3D4" stroke-width="0.8" />
<polyline points="547.1,650.8 582.4,666.1" fill="none" stroke="#7FA3D4" stroke-width="0.8" />
<polyline points="582.4,666.1 705.0,586.2" fill="none" stroke="#7FA3D4" stroke-width="0.8" />
<polyline points="613.0,602.9 613.0,654.8" fill="none" stroke="#C9D6EA" stroke-width="1.2" />
<polyline points="643.7,587.6 643.7,633.9" fill="none" stroke="#C9D6EA" stroke-width="1.2" />
<polyline points="674.4,572.3 674.4,612.9" fill="none" stroke="#C9D6EA" stroke-width="1.2" />
<polyline points="564.8,610.8 564.8,668.0" fill="none" stroke="#C9D6EA" stroke-width="1.2" />
<polyline points="587.5,617.3 587.5,670.5" fill="none" stroke="#1E4C90" stroke-width="0.9" />
<polyline points="597.7,612.2 597.7,663.6" fill="none" stroke="#1E4C90" stroke-width="0.9" />
<polyline points="607.9,607.0 607.9,656.7" fill="none" stroke="#1E4C90" stroke-width="0.9" />
<polyline points="618.2,601.9 618.2,649.8" fill="none" stroke="#1E4C90" stroke-width="0.9" />
<polyline points="628.4,596.7 628.4,642.8" fill="none" stroke="#1E4C90" stroke-width="0.9" />
<polyline points="638.6,591.6 638.6,635.9" fill="none" stroke="#1E4C90" stroke-width="0.9" />
<polyline points="648.8,586.4 648.8,629.0" fill="none" stroke="#1E4C90" stroke-width="0.9" />
<polyline points="659.0,581.3 659.0,622.1" fill="none" stroke="#1E4C90" stroke-width="0.9" />
<polyline points="669.2,576.1 669.2,615.2" fill="none" stroke="#1E4C90" stroke-width="0.9" />
<polyline points="679.5,570.9 679.5,608.2" fill="none" stroke="#1E4C90" stroke-width="0.9" />
<polyline points="689.7,565.8 689.7,601.3" fill="none" stroke="#1E4C90" stroke-width="0.9" />
<polyline points="699.9,560.6 699.9,594.4" fill="none" stroke="#1E4C90" stroke-width="0.9" />
<polyline points="550.0,606.3 550.0,659.9" fill="none" stroke="#1E4C90" stroke-width="0.9" />
<polyline points="555.9,608.7 555.9,662.4" fill="none" stroke="#1E4C90" stroke-width="0.9" />
<polyline points="561.8,611.2 561.8,665.0" fill="none" stroke="#1E4C90" stroke-width="0.9" />
<polyline points="567.7,613.7 567.7,667.6" fill="none" stroke="#1E4C90" stroke-width="0.9" />
<polyline points="573.6,616.2 573.6,670.1" fill="none" stroke="#1E4C90" stroke-width="0.9" />
<polyline points="579.5,618.7 579.5,672.7" fill="none" stroke="#1E4C90" stroke-width="0.9" />
<polyline points="547.1,605.7 582.4,620.6" fill="none" stroke="#1E4C90" stroke-width="0.6" />
<polyline points="582.4,620.6 705.0,558.5" fill="none" stroke="#1E4C90" stroke-width="0.6" />
<polyline points="547.1,610.4 582.4,625.4" fill="none" stroke="#1E4C90" stroke-width="0.6" />
<polyline points="582.4,625.4 705.0,561.4" fill="none" stroke="#1E4C90" stroke-width="0.6" />
<polyline points="547.1,615.2 582.4,630.2" fill="none" stroke="#1E4C90" stroke-width="0.6" />
<polyline points="582.4,630.2 705.0,564.3" fill="none" stroke="#1E4C90" stroke-width="0.6" />
<polyline points="547.1,619.9 582.4,635.0" fill="none" stroke="#1E4C90" stroke-width="0.6" />
<polyline points="582.4,635.0 705.0,567.2" fill="none" stroke="#1E4C90" stroke-width="0.6" />
<polyline points="547.1,624.7 582.4,639.8" fill="none" stroke="#1E4C90" stroke-width="0.6" />
<polyline points="582.4,639.8 705.0,570.1" fill="none" stroke="#1E4C90" stroke-width="0.6" />
<polyline points="547.1,629.4 582.4,644.6" fill="none" stroke="#1E4C90" stroke-width="0.6" />
<polyline points="582.4,644.6 705.0,573.0" fill="none" stroke="#1E4C90" stroke-width="0.6" />
<polyline points="547.1,634.2 582.4,649.3" fill="none" stroke="#1E4C90" stroke-width="0.6" />
<polyline points="582.4,649.3 705.0,576.0" fill="none" stroke="#1E4C90" stroke-width="0.6" />
<polyline points="547.1,638.9 582.4,654.1" fill="none" stroke="#1E4C90" stroke-width="0.6" />
<polyline points="582.4,654.1 705.0,578.9" fill="none" stroke="#1E4C90" stroke-width="0.6" />
<polyline points="547.1,643.7 582.4,658.9" fill="none" stroke="#1E4C90" stroke-width="0.6" />
<polyline points="582.4,658.9 705.0,581.8" fill="none" stroke="#1E4C90" stroke-width="0.6" />
<polyline points="547.1,648.4 582.4,663.7" fill="none" stroke="#1E4C90" stroke-width="0.6" />
<polyline points="582.4,663.7 705.0,584.7" fill="none" stroke="#1E4C90" stroke-width="0.6" />
<polyline points="547.1,653.2 582.4,668.5" fill="none" stroke="#1E4C90" stroke-width="0.6" />
<polyline points="582.4,668.5 705.0,587.6" fill="none" stroke="#1E4C90" stroke-width="0.6" />
<polyline points="547.1,657.9 582.4,673.3" fill="none" stroke="#1E4C90" stroke-width="0.6" />
<polyline points="582.4,673.3 705.0,590.5" fill="none" stroke="#1E4C90" stroke-width="0.6" />
<polyline points="639.0,557.4 674.4,572.3" fill="none" stroke="#2B5FA9" stroke-width="2.5" />
<polyline points="608.4,572.7 643.7,587.6" fill="none" stroke="#2B5FA9" stroke-width="2.5" />
<polyline points="577.8,588.0 613.0,602.9" fill="none" stroke="#2B5FA9" stroke-width="2.5" />
<polyline points="582.4,618.2 582.4,675.7" fill="none" stroke="#1C4E96" stroke-width="1" />
<polygon points="617.7,641.4 652.9,658.0 652.9,708.0 617.7,691.4" fill="#2F68B3" />
<polygon points="652.9,658.0 764.4,603.0 764.4,651.0 652.9,708.0" fill="#2A5EA8" />
<polygon points="617.7,641.4 729.2,586.4 764.4,603.0 652.9,658.0" fill="#2E66B0" />
<polygon points="727.8,588.4 734.5,591.6 723.9,596.8 717.2,593.7" fill="#E8EAEE" />
<polygon points="716.1,594.2 722.8,597.4 712.2,602.6 705.5,599.4" fill="#E8EAEE" />
<polygon points="735.9,592.3 742.6,595.4 732.0,600.6 725.3,597.5" fill="#E8EAEE" />
<polygon points="724.2,598.0 730.9,601.2 720.3,606.4 713.6,603.3" fill="#E8EAEE" />
<polygon points="699.9,602.2 706.6,605.3 696.0,610.6 689.4,607.4" fill="#E8EAEE" />
<polygon points="688.2,608.0 694.9,611.1 684.3,616.3 677.6,613.2" fill="#E8EAEE" />
<polygon points="680.2,619.8 686.9,622.9 676.3,628.1 669.6,625.0" fill="#E8EAEE" />
<polygon points="668.5,625.5 675.1,628.7 664.6,633.9 657.9,630.8" fill="#E8EAEE" />
<polygon points="644.2,629.7 650.9,632.8 640.3,638.1 633.6,634.9" fill="#E8EAEE" />
<polygon points="632.5,635.5 639.2,638.6 628.6,643.8 621.9,640.7" fill="#E8EAEE" />
<polygon points="652.3,633.5 659.0,636.7 648.4,641.9 641.7,638.7" fill="#E8EAEE" />
<polygon points="640.6,639.3 647.3,642.4 636.7,647.7 630.0,644.5" fill="#E8EAEE" />
<polygon points="745.4,596.7 752.1,599.9 741.5,605.1 734.8,602.0" fill="#E8EAEE" />
<polygon points="733.7,602.5 740.4,605.7 729.8,610.9 723.1,607.7" fill="#E8EAEE" />
<polygon points="725.6,614.3 732.3,617.5 721.7,622.7 715.0,619.5" fill="#E8EAEE" />
<polygon points="713.9,620.1 720.6,623.2 710.0,628.5 703.3,625.3" fill="#E8EAEE" />
<polygon points="689.7,624.2 696.4,627.4 685.8,632.6 679.1,629.5" fill="#E8EAEE" />
<polygon points="678.0,630.0 684.7,633.2 674.1,638.4 667.4,635.2" fill="#E8EAEE" />
<polygon points="697.8,628.1 704.5,631.2 693.9,636.4 687.2,633.3" fill="#E8EAEE" />
<polygon points="686.1,633.8 692.7,637.0 682.2,642.2 675.5,639.1" fill="#E8EAEE" />
<polygon points="661.8,638.0 668.5,641.1 657.9,646.4 651.2,643.2" fill="#E8EAEE" />
<polygon points="650.1,643.8 656.8,646.9 646.2,652.1 639.5,649.0" fill="#E8EAEE" />
<polyline points="617.7,649.7 652.9,666.3" fill="none" stroke="#7FA3D4" stroke-width="0.8" />
<polyline points="652.9,666.3 764.4,611.0" fill="none" stroke="#7FA3D4" stroke-width="0.8" />
<polyline points="617.7,658.1 652.9,674.7" fill="none" stroke="#7FA3D4" stroke-width="0.8" />
<polyline points="652.9,674.7 764.4,619.0" fill="none" stroke="#7FA3D4" stroke-width="0.8" />
<polyline points="617.7,666.4 652.9,683.0" fill="none" stroke="#7FA3D4" stroke-width="0.8" />
<polyline points="652.9,683.0 764.4,627.0" fill="none" stroke="#7FA3D4" stroke-width="0.8" />
<polyline points="617.7,674.7 652.9,691.3" fill="none" stroke="#7FA3D4" stroke-width="0.8" />
<polyline points="652.9,691.3 764.4,635.0" fill="none" stroke="#7FA3D4" stroke-width="0.8" />
<polyline points="617.7,683.1 652.9,699.7" fill="none" stroke="#7FA3D4" stroke-width="0.8" />
<polyline points="652.9,699.7 764.4,643.0" fill="none" stroke="#7FA3D4" stroke-width="0.8" />
<polyline points="680.8,644.2 680.8,693.8" fill="none" stroke="#C9D6EA" stroke-width="1.2" />
<polyline points="708.6,630.5 708.6,679.5" fill="none" stroke="#C9D6EA" stroke-width="1.2" />
<polyline points="736.5,616.8 736.5,665.2" fill="none" stroke="#C9D6EA" stroke-width="1.2" />
<polyline points="635.3,649.7 635.3,699.7" fill="none" stroke="#C9D6EA" stroke-width="1.2" />
<polyline points="657.5,657.2 657.5,704.1" fill="none" stroke="#1E4C90" stroke-width="0.9" />
<polyline points="666.8,652.6 666.8,699.4" fill="none" stroke="#1E4C90" stroke-width="0.9" />
<polyline points="676.1,648.0 676.1,694.6" fill="none" stroke="#1E4C90" stroke-width="0.9" />
<polyline points="685.4,643.4 685.4,689.9" fill="none" stroke="#1E4C90" stroke-width="0.9" />
<polyline points="694.7,638.9 694.7,685.1" fill="none" stroke="#1E4C90" stroke-width="0.9" />
<polyline points="704.0,634.3 704.0,680.4" fill="none" stroke="#1E4C90" stroke-width="0.9" />
<polyline points="713.3,629.7 713.3,675.7" fill="none" stroke="#1E4C90" stroke-width="0.9" />
<polyline points="722.6,625.1 722.6,670.9" fill="none" stroke="#1E4C90" stroke-width="0.9" />
<polyline points="731.9,620.5 731.9,666.2" fill="none" stroke="#1E4C90" stroke-width="0.9" />
<polyline points="741.2,615.9 741.2,661.4" fill="none" stroke="#1E4C90" stroke-width="0.9" />
<polyline points="750.5,611.3 750.5,656.7" fill="none" stroke="#1E4C90" stroke-width="0.9" />
<polyline points="759.8,606.7 759.8,651.9" fill="none" stroke="#1E4C90" stroke-width="0.9" />
<polyline points="620.6,644.3 620.6,691.3" fill="none" stroke="#1E4C90" stroke-width="0.9" />
<polyline points="626.5,647.0 626.5,694.0" fill="none" stroke="#1E4C90" stroke-width="0.9" />
<polyline points="632.4,649.8 632.4,696.8" fill="none" stroke="#1E4C90" stroke-width="0.9" />
<polyline points="638.2,652.6 638.2,699.6" fill="none" stroke="#1E4C90" stroke-width="0.9" />
<polyline points="644.1,655.4 644.1,702.4" fill="none" stroke="#1E4C90" stroke-width="0.9" />
<polyline points="650.0,658.1 650.0,705.1" fill="none" stroke="#1E4C90" stroke-width="0.9" />
<polyline points="617.7,643.5 652.9,660.1" fill="none" stroke="#1E4C90" stroke-width="0.6" />
<polyline points="652.9,660.1 764.4,605.0" fill="none" stroke="#1E4C90" stroke-width="0.6" />
<polyline points="617.7,647.6 652.9,664.2" fill="none" stroke="#1E4C90" stroke-width="0.6" />
<polyline points="652.9,664.2 764.4,609.0" fill="none" stroke="#1E4C90" stroke-width="0.6" />
<polyline points="617.7,651.8 652.9,668.4" fill="none" stroke="#1E4C90" stroke-width="0.6" />
<polyline points="652.9,668.4 764.4,613.0" fill="none" stroke="#1E4C90" stroke-width="0.6" />
<polyline points="617.7,656.0 652.9,672.6" fill="none" stroke="#1E4C90" stroke-width="0.6" />
<polyline points="652.9,672.6 764.4,617.0" fill="none" stroke="#1E4C90" stroke-width="0.6" />
<polyline points="617.7,660.1 652.9,676.8" fill="none" stroke="#1E4C90" stroke-width="0.6" />
<polyline points="652.9,676.8 764.4,621.0" fill="none" stroke="#1E4C90" stroke-width="0.6" />
<polyline points="617.7,664.3 652.9,680.9" fill="none" stroke="#1E4C90" stroke-width="0.6" />
<polyline points="652.9,680.9 764.4,625.0" fill="none" stroke="#1E4C90" stroke-width="0.6" />
<polyline points="617.7,668.5 652.9,685.1" fill="none" stroke="#1E4C90" stroke-width="0.6" />
<polyline points="652.9,685.1 764.4,629.0" fill="none" stroke="#1E4C90" stroke-width="0.6" />
<polyline points="617.7,672.6 652.9,689.2" fill="none" stroke="#1E4C90" stroke-width="0.6" />
<polyline points="652.9,689.2 764.4,633.0" fill="none" stroke="#1E4C90" stroke-width="0.6" />
<polyline points="617.7,676.8 652.9,693.4" fill="none" stroke="#1E4C90" stroke-width="0.6" />
<polyline points="652.9,693.4 764.4,637.0" fill="none" stroke="#1E4C90" stroke-width="0.6" />
<polyline points="617.7,681.0 652.9,697.6" fill="none" stroke="#1E4C90" stroke-width="0.6" />
<polyline points="652.9,697.6 764.4,641.0" fill="none" stroke="#1E4C90" stroke-width="0.6" />
<polyline points="617.7,685.1 652.9,701.8" fill="none" stroke="#1E4C90" stroke-width="0.6" />
<polyline points="652.9,701.8 764.4,645.0" fill="none" stroke="#1E4C90" stroke-width="0.6" />
<polyline points="617.7,689.3 652.9,705.9" fill="none" stroke="#1E4C90" stroke-width="0.6" />
<polyline points="652.9,705.9 764.4,649.0" fill="none" stroke="#1E4C90" stroke-width="0.6" />
<polyline points="701.3,600.2 736.5,616.8" fill="none" stroke="#2B5FA9" stroke-width="2.5" />
<polyline points="673.5,613.9 708.6,630.5" fill="none" stroke="#2B5FA9" stroke-width="2.5" />
<polyline points="645.6,627.6 680.8,644.2" fill="none" stroke="#2B5FA9" stroke-width="2.5" />
<polyline points="652.9,658.0 652.9,708.0" fill="none" stroke="#1C4E96" stroke-width="1" />
<polygon points="874.2,522.2 996.8,580.0 996.8,627.0 874.2,567.2" fill="#2F68B3" />
<polygon points="996.8,580.0 1040.0,560.0 1040.0,607.0 996.8,627.0" fill="#2A5EA8" />
<polygon points="874.2,522.2 917.4,502.2 1040.0,560.0 996.8,580.0" fill="#2E66B0" />
<polygon points="916.3,505.7 931.9,513.1 915.5,520.7 899.9,513.3" fill="#E8EAEE" />
<polygon points="898.2,514.1 913.7,521.5 897.3,529.1 881.8,521.7" fill="#E8EAEE" />
<polygon points="935.1,514.6 950.7,521.9 934.3,529.5 918.7,522.2" fill="#E8EAEE" />
<polygon points="917.0,523.0 932.5,530.3 916.1,537.9 900.6,530.6" fill="#E8EAEE" />
<polygon points="957.2,525.0 972.7,532.3 956.3,539.9 940.8,532.6" fill="#E8EAEE" />
<polygon points="939.1,533.4 954.6,540.7 938.2,548.3 922.7,541.0" fill="#E8EAEE" />
<polygon points="976.0,533.9 991.5,541.2 975.1,548.8 959.6,541.5" fill="#E8EAEE" />
<polygon points="957.9,542.3 973.4,549.6 957.0,557.2 941.5,549.9" fill="#E8EAEE" />
<polygon points="998.1,544.3 1013.6,551.6 997.2,559.2 981.7,551.9" fill="#E8EAEE" />
<polygon points="979.9,552.7 995.5,560.0 979.1,567.6 963.5,560.3" fill="#E8EAEE" />
<polygon points="1016.9,553.1 1032.4,560.5 1016.0,568.1 1000.5,560.7" fill="#E8EAEE" />
<polygon points="998.7,561.5 1014.3,568.9 997.9,576.5 982.3,569.1" fill="#E8EAEE" />
<polyline points="874.2,531.2 996.8,589.4" fill="none" stroke="#7FA3D4" stroke-width="0.8" />
<polyline points="996.8,589.4 1040.0,569.4" fill="none" stroke="#7FA3D4" stroke-width="0.8" />
<polyline points="874.2,540.2 996.8,598.8" fill="none" stroke="#7FA3D4" stroke-width="0.8" />
<polyline points="996.8,598.8 1040.0,578.8" fill="none" stroke="#7FA3D4" stroke-width="0.8" />
<polyline points="874.2,549.2 996.8,608.2" fill="none" stroke="#7FA3D4" stroke-width="0.8" />
<polyline points="996.8,608.2 1040.0,588.2" fill="none" stroke="#7FA3D4" stroke-width="0.8" />
<polyline points="874.2,558.2 996.8,617.6" fill="none" stroke="#7FA3D4" stroke-width="0.8" />
<polyline points="996.8,617.6 1040.0,597.6" fill="none" stroke="#7FA3D4" stroke-width="0.8" />
<polyline points="915.1,541.5 915.1,587.1" fill="none" stroke="#C9D6EA" stroke-width="1.2" />
<polyline points="955.9,560.7 955.9,607.1" fill="none" stroke="#C9D6EA" stroke-width="1.2" />
<polyline points="1004.0,578.1 1004.0,622.3" fill="none" stroke="#1E4C90" stroke-width="0.9" />
<polyline points="1018.4,571.4 1018.4,615.6" fill="none" stroke="#1E4C90" stroke-width="0.9" />
<polyline points="1032.8,564.7 1032.8,608.9" fill="none" stroke="#1E4C90" stroke-width="0.9" />
<polyline points="881.0,526.8 881.0,569.2" fill="none" stroke="#1E4C90" stroke-width="0.9" />
<polyline points="894.6,533.2 894.6,575.8" fill="none" stroke="#1E4C90" stroke-width="0.9" />
<polyline points="908.3,539.6 908.3,582.4" fill="none" stroke="#1E4C90" stroke-width="0.9" />
<polyline points="921.9,546.1 921.9,589.1" fill="none" stroke="#1E4C90" stroke-width="0.9" />
<polyline points="935.5,552.5 935.5,595.7" fill="none" stroke="#1E4C90" stroke-width="0.9" />
<polyline points="949.1,558.9 949.1,602.4" fill="none" stroke="#1E4C90" stroke-width="0.9" />
<polyline points="962.7,565.3 962.7,609.0" fill="none" stroke="#1E4C90" stroke-width="0.9" />
<polyline points="976.4,571.8 976.4,615.6" fill="none" stroke="#1E4C90" stroke-width="0.9" />
<polyline points="990.0,578.2 990.0,622.3" fill="none" stroke="#1E4C90" stroke-width="0.9" />
<polyline points="874.2,524.5 996.8,582.4" fill="none" stroke="#1E4C90" stroke-width="0.6" />
<polyline points="996.8,582.4 1040.0,562.4" fill="none" stroke="#1E4C90" stroke-width="0.6" />
<polyline points="874.2,529.0 996.8,587.0" fill="none" stroke="#1E4C90" stroke-width="0.6" />
<polyline points="996.8,587.0 1040.0,567.0" fill="none" stroke="#1E4C90" stroke-width="0.6" />
<polyline points="874.2,533.5 996.8,591.8" fill="none" stroke="#1E4C90" stroke-width="0.6" />
<polyline points="996.8,591.8 1040.0,571.8" fill="none" stroke="#1E4C90" stroke-width="0.6" />
<polyline points="874.2,538.0 996.8,596.5" fill="none" stroke="#1E4C90" stroke-width="0.6" />
<polyline points="996.8,596.5 1040.0,576.5" fill="none" stroke="#1E4C90" stroke-width="0.6" />
<polyline points="874.2,542.5 996.8,601.1" fill="none" stroke="#1E4C90" stroke-width="0.6" />
<polyline points="996.8,601.1 1040.0,581.1" fill="none" stroke="#1E4C90" stroke-width="0.6" />
<polyline points="874.2,547.0 996.8,605.9" fill="none" stroke="#1E4C90" stroke-width="0.6" />
<polyline points="996.8,605.9 1040.0,585.9" fill="none" stroke="#1E4C90" stroke-width="0.6" />
<polyline points="874.2,551.5 996.8,610.5" fill="none" stroke="#1E4C90" stroke-width="0.6" />
<polyline points="996.8,610.5 1040.0,590.5" fill="none" stroke="#1E4C90" stroke-width="0.6" />
<polyline points="874.2,556.0 996.8,615.2" fill="none" stroke="#1E4C90" stroke-width="0.6" />
<polyline points="996.8,615.2 1040.0,595.2" fill="none" stroke="#1E4C90" stroke-width="0.6" />
<polyline points="874.2,560.5 996.8,620.0" fill="none" stroke="#1E4C90" stroke-width="0.6" />
<polyline points="996.8,620.0 1040.0,600.0" fill="none" stroke="#1E4C90" stroke-width="0.6" />
<polyline points="874.2,565.0 996.8,624.6" fill="none" stroke="#1E4C90" stroke-width="0.6" />
<polyline points="996.8,624.6 1040.0,604.6" fill="none" stroke="#1E4C90" stroke-width="0.6" />
<polyline points="996.8,580.0 996.8,627.0" fill="none" stroke="#1C4E96" stroke-width="1" />
<polygon points="757.0,687.0 806.0,702.5 806.0,796.0 757.0,769.0" fill="#2C63AE" />
<polygon points="759.9,694.5 792.3,705.4 792.3,788.4 759.9,770.6" fill="#CAC5BD" />
<polygon points="806.0,702.5 857.0,677.0 857.0,749.0 806.0,796.0" fill="#2459A7" />
<polygon points="757.0,687.0 808.0,661.5 857.0,677.0 806.0,702.5" fill="#2F68B3" />
<polyline points="757.0,687.0 806.0,702.5 857.0,677.0" fill="none" stroke="#1E4F98" stroke-width="1" />
<polygon points="842.3,672.4 854.5,676.2 841.8,682.6 829.5,678.7" fill="#BFBAB2" />
<polyline points="790.1,670.4 839.1,685.9" fill="none" stroke="#1E4F98" stroke-width="1" />
<polygon points="661.6,745.5 720.0,767.0 720.0,843.0 661.6,812.0" fill="#2C63AE" />
<polygon points="665.1,752.2 709.5,769.1 709.5,837.4 665.1,813.9" fill="#CAC5BD" />
<polygon points="720.0,767.0 778.8,739.6 778.8,813.6 720.0,843.0" fill="#2459A7" />
<polygon points="661.6,745.5 720.4,718.1 778.8,739.6 720.0,767.0" fill="#2F68B3" />
<polyline points="661.6,745.5 720.0,767.0 778.8,739.6" fill="none" stroke="#1E4F98" stroke-width="1" />
<polygon points="755.4,738.3 768.8,743.3 760.0,747.4 746.6,742.4" fill="#C4BFB7" />
<polygon points="675.1,741.6 689.7,747.0 680.3,751.4 665.7,746.0" fill="#BCB7AF" />
<polygon points="575.6,802.0 618.6,823.6 618.6,878.0 575.6,856.8" fill="#2C63AE" />
<polygon points="578.2,807.7 599.2,818.2 599.2,868.5 578.2,858.1" fill="#CAC5BD" />
<polygon points="618.6,823.6 669.0,798.0 669.0,853.0 618.6,878.0" fill="#2459A7" />
<polygon points="575.6,802.0 626.0,776.4 669.0,798.0 618.6,823.6" fill="#2F68B3" />
<polyline points="575.6,802.0 618.6,823.6 669.0,798.0" fill="none" stroke="#1E4F98" stroke-width="1" />
<polygon points="653.2,795.2 663.1,800.1 653.0,805.2 643.1,800.3" fill="#C4BFB7" />
<polygon points="586.8,798.5 599.7,805.0 591.7,809.0 578.8,802.6" fill="#BCB7AF" />
<polygon points="831.5,755.0 872.5,776.7 872.5,853.0 831.5,825.0" fill="#2459A7" />
<polygon points="833.1,758.7 850.4,767.9 850.4,799.2 833.1,788.9" fill="#CAC5BD" />
<polygon points="833.1,793.8 850.4,804.3 850.4,835.7 833.1,824.0" fill="#CAC5BD" />
<polygon points="853.6,769.7 870.9,778.9 870.9,811.6 853.6,801.2" fill="#CAC5BD" />
<polygon points="853.6,806.4 870.9,816.9 870.9,849.6 853.6,837.9" fill="#CAC5BD" />
<polygon points="872.5,776.7 927.0,753.0 927.0,831.0 872.5,853.0" fill="#2459A7" />
<polyline points="872.5,814.9 927.0,792.0" fill="none" stroke="#7196CC" stroke-width="1.5" />
<polyline points="899.8,764.9 899.8,842.0" fill="none" stroke="#1B4A90" stroke-width="1.5" />
<polygon points="831.5,755.0 886.0,731.3 927.0,753.0 872.5,776.7" fill="#2D63AD" />
<polygon points="884.8,733.8 894.3,738.9 882.7,743.9 873.2,738.9" fill="#CDC9C2" />
<polygon points="866.6,741.7 876.2,746.8 864.6,751.8 855.0,746.8" fill="#CDC9C2" />
<polygon points="848.4,749.6 858.0,754.7 846.4,759.7 836.8,754.7" fill="#CDC9C2" />
<polygon points="898.4,741.0 908.0,746.1 896.4,751.2 886.8,746.1" fill="#CDC9C2" />
<polygon points="880.3,748.9 889.8,754.0 878.2,759.1 868.7,754.0" fill="#CDC9C2" />
<polygon points="862.1,756.8 871.7,761.9 860.1,767.0 850.5,761.9" fill="#CDC9C2" />
<polygon points="912.1,748.3 921.7,753.3 910.1,758.4 900.5,753.3" fill="#CDC9C2" />
<polygon points="893.9,756.2 903.5,761.2 891.9,766.3 882.3,761.2" fill="#CDC9C2" />
<polygon points="875.8,764.1 885.3,769.1 873.7,774.2 864.2,769.1" fill="#CDC9C2" />
<polyline points="872.5,776.7 872.5,853.0" fill="none" stroke="#1B4A90" stroke-width="1.5" />
<polygon points="761.0,790.0 810.0,812.0 810.0,890.0 761.0,870.0" fill="#2459A7" />
<polygon points="763.0,794.1 783.5,803.3 783.5,837.3 763.0,828.4" fill="#CAC5BD" />
<polygon points="763.0,834.0 783.5,842.8 783.5,876.8 763.0,868.4" fill="#CAC5BD" />
<polygon points="787.5,805.0 808.0,814.2 808.0,847.8 787.5,839.0" fill="#CAC5BD" />
<polygon points="787.5,844.5 808.0,853.3 808.0,886.9 787.5,878.4" fill="#CAC5BD" />
<polygon points="810.0,812.0 866.6,786.5 866.6,860.5 810.0,890.0" fill="#2459A7" />
<polyline points="810.0,851.0 866.6,823.5" fill="none" stroke="#7196CC" stroke-width="1.5" />
<polyline points="838.3,799.2 838.3,875.2" fill="none" stroke="#1B4A90" stroke-width="1.5" />
<polygon points="761.0,790.0 817.6,764.5 866.6,786.5 810.0,812.0" fill="#2D63AD" />
<polygon points="816.7,767.1 828.1,772.3 816.0,777.7 804.6,772.6" fill="#CDC9C2" />
<polygon points="797.8,775.6 809.2,780.8 797.1,786.2 785.7,781.1" fill="#CDC9C2" />
<polygon points="778.9,784.1 790.4,789.3 778.3,794.7 766.8,789.6" fill="#CDC9C2" />
<polygon points="833.0,774.5 844.4,779.6 832.3,785.0 820.9,779.9" fill="#CDC9C2" />
<polygon points="814.1,783.0 825.6,788.1 813.5,793.5 802.0,788.4" fill="#CDC9C2" />
<polygon points="795.3,791.5 806.7,796.6 794.6,802.0 783.2,796.9" fill="#CDC9C2" />
<polygon points="849.3,781.8 860.8,786.9 848.7,792.4 837.2,787.2" fill="#CDC9C2" />
<polygon points="830.5,790.3 841.9,795.4 829.8,800.9 818.4,795.7" fill="#CDC9C2" />
<polygon points="811.6,798.8 823.0,803.9 810.9,809.4 799.5,804.2" fill="#CDC9C2" />
<polyline points="810.0,812.0 810.0,890.0" fill="none" stroke="#1B4A90" stroke-width="1.5" />
<polygon points="669.0,805.0 690.0,815.0 693.0,845.0 680.0,850.0 670.0,845.0" fill="#CFCAC1" />
<polygon points="808.0,890.0 927.0,831.0 960.0,835.0 1000.0,838.0 975.0,858.0 900.0,895.0 840.0,905.0" fill="#D8D3CB" />
<polygon points="693.6,835.7 728.0,851.6 728.0,883.2 694.5,872.7" fill="#EEF1F6" />
<polygon points="728.0,851.6 749.0,842.8 749.0,871.0 728.0,883.2" fill="#DDE3EC" />
<polyline points="693.6,835.7 728.0,851.6 728.0,883.2 694.5,872.7 693.6,835.7" fill="none" stroke="#2459A7" stroke-width="2.2" />
<polyline points="749.0,842.8 749.0,871.0 728.0,883.2" fill="none" stroke="#2459A7" stroke-width="2.2" />
<polyline points="702.2,839.7 702.9,875.3" fill="none" stroke="#2459A7" stroke-width="1.6" />
<polyline points="710.8,843.7 711.2,878.0" fill="none" stroke="#2459A7" stroke-width="1.6" />
<polyline points="719.4,847.6 719.6,880.6" fill="none" stroke="#2459A7" stroke-width="1.6" />
<polyline points="694.0,854.2 728.0,867.4" fill="none" stroke="#2459A7" stroke-width="1.6" />
<polygon points="692.8,820.0 715.6,809.3 749.0,842.8 728.0,849.8" fill="#F6F6F4" />
<polyline points="692.8,820.0 715.6,809.3 749.0,842.8 728.0,849.8 692.8,820.0" fill="none" stroke="#C9CED6" stroke-width="1" />
<circle cx="700" cy="884" r="3.2" fill="#1E4A8A"/>
<circle cx="722" cy="890" r="3.2" fill="#1E4A8A"/>
<polygon points="655.0,918.0 684.0,937.7 684.0,956.0 656.0,946.0" fill="#EEF1F6" />
<polygon points="684.0,937.7 698.0,930.7 698.0,950.0 684.0,956.0" fill="#DDE3EC" />
<polyline points="655.0,918.0 684.0,937.7 684.0,956.0 656.0,946.0 655.0,918.0" fill="none" stroke="#2459A7" stroke-width="2.2" />
<polyline points="698.0,930.7 698.0,950.0 684.0,956.0" fill="none" stroke="#2459A7" stroke-width="2.2" />
<polyline points="662.2,922.9 663.0,948.5" fill="none" stroke="#2459A7" stroke-width="1.6" />
<polyline points="669.5,927.9 670.0,951.0" fill="none" stroke="#2459A7" stroke-width="1.6" />
<polyline points="676.8,932.8 677.0,953.5" fill="none" stroke="#2459A7" stroke-width="1.6" />
<polyline points="655.5,932.0 684.0,946.9" fill="none" stroke="#2459A7" stroke-width="1.6" />
<polygon points="655.0,909.6 668.0,900.0 698.0,930.7 684.0,937.7" fill="#F6F6F4" />
<polyline points="655.0,909.6 668.0,900.0 698.0,930.7 684.0,937.7 655.0,909.6" fill="none" stroke="#C9CED6" stroke-width="1" />
<circle cx="662" cy="949" r="3.2" fill="#1E4A8A"/>
<circle cx="686" cy="961" r="3.2" fill="#1E4A8A"/>
<polygon points="454.4,464.6 479.6,451.6 479.6,481.0 454.4,493.3" fill="#1F56A2" />
<polygon points="459.4,467.2 465.0,464.4 465.0,466.4 459.4,469.2" fill="#DCE6F3" />
<polygon points="459.4,471.2 465.0,468.4 465.0,470.4 459.4,473.2" fill="#DCE6F3" />
<polygon points="459.4,475.3 465.0,472.5 465.0,474.5 459.4,477.3" fill="#DCE6F3" />
<polygon points="459.4,479.3 465.0,476.5 465.0,478.6 459.4,481.3" fill="#DCE6F3" />
<polygon points="459.4,483.3 465.0,480.6 465.0,482.6 459.4,485.4" fill="#DCE6F3" />
<polygon points="469.0,462.3 474.6,459.5 474.6,461.5 469.0,464.3" fill="#DCE6F3" />
<polygon points="469.0,466.4 474.6,463.6 474.6,465.6 469.0,468.4" fill="#DCE6F3" />
<polygon points="469.0,470.4 474.6,467.7 474.6,469.7 469.0,472.5" fill="#DCE6F3" />
<polygon points="469.0,474.5 474.6,471.8 474.6,473.8 469.0,476.6" fill="#DCE6F3" />
<polygon points="469.0,478.6 474.6,475.9 474.6,477.9 469.0,480.6" fill="#DCE6F3" />
<polygon points="260.0,549.5 285.0,544.5 285.0,574.5 260.0,587.0" fill="#1F56A2" />
<polyline points="265.0,568.0 281.0,562.0" fill="none" stroke="#DCE6F3" stroke-width="1.5" />
<polyline points="267.0,560.0 267.0,566.0" fill="none" stroke="#DCE6F3" stroke-width="1.2" />
<polyline points="273.0,558.0 273.0,566.0" fill="none" stroke="#DCE6F3" stroke-width="1.2" />
<polyline points="278.0,556.0 278.0,565.0" fill="none" stroke="#DCE6F3" stroke-width="1.2" />
<polyline points="681.0,493.4 708.8,507.5" fill="none" stroke="#1B4F98" stroke-width="1.8" />
<polyline points="681.0,496.7 708.8,510.8" fill="none" stroke="#1B4F98" stroke-width="1.8" />
<polyline points="681.0,500.0 708.8,514.1" fill="none" stroke="#1B4F98" stroke-width="1.8" />
<polyline points="681.0,503.3 708.8,517.4" fill="none" stroke="#1B4F98" stroke-width="1.8" />
<polyline points="681.0,506.6 708.8,520.7" fill="none" stroke="#1B4F98" stroke-width="1.8" />
<polyline points="681.0,509.9 708.8,524.0" fill="none" stroke="#1B4F98" stroke-width="1.8" />
<polyline points="681.0,513.2 708.8,527.3" fill="none" stroke="#1B4F98" stroke-width="1.8" />
<polyline points="684.0,523.0 690.0,518.0 695.0,526.0" fill="none" stroke="#1B4F98" stroke-width="1.2" />
<polyline points="507.0,494.0 527.0,502.0" fill="none" stroke="#2159A5" stroke-width="2.2" />
<polyline points="507.0,499.0 527.0,507.0" fill="none" stroke="#2159A5" stroke-width="2.2" />
<polyline points="507.0,504.0 527.0,512.0" fill="none" stroke="#2159A5" stroke-width="2.2" />
<polyline points="507.0,509.0 527.0,517.0" fill="none" stroke="#2159A5" stroke-width="2.2" />
<polyline points="507.0,514.0 527.0,522.0" fill="none" stroke="#2159A5" stroke-width="2.2" />
<polyline points="507.0,519.0 527.0,527.0" fill="none" stroke="#2159A5" stroke-width="2.2" />
<polyline points="506.0,492.0 512.0,525.0" fill="none" stroke="#2159A5" stroke-width="1.5" />
<polyline points="503.0,520.0 520.0,510.0" fill="none" stroke="#2159A5" stroke-width="1.5" />
<rect x="541" y="503" width="17" height="21" rx="4" fill="none" stroke="#2159A5" stroke-width="2.2" transform="skewY(8) translate(0,-77)"/>
<polyline points="544.0,511.0 556.0,514.0" fill="none" stroke="#2159A5" stroke-width="1.5" />
<polyline points="544.0,516.0 556.0,519.0" fill="none" stroke="#2159A5" stroke-width="1.5" />
<polygon points="539.0,722.0 558.0,713.0 577.0,721.0 558.0,731.0" fill="#EEF1F6" />
<polygon points="539.0,722.0 558.0,731.0 558.0,760.0 539.0,752.0" fill="#E6EBF3" />
<polygon points="558.0,731.0 577.0,721.0 577.0,750.0 558.0,760.0" fill="#D7DFEC" />
<polyline points="539.0,722.0 558.0,731.0 577.0,721.0" fill="none" stroke="#2D63AE" stroke-width="1.5" />
<polyline points="539.0,722.0 539.0,752.0 558.0,760.0 577.0,750.0 577.0,721.0" fill="none" stroke="#2D63AE" stroke-width="1.5" />
<polyline points="539.0,736.0 558.0,745.0 577.0,736.0" fill="none" stroke="#2D63AE" stroke-width="1.3" />
<polyline points="548.0,741.0 548.0,756.0" fill="none" stroke="#2D63AE" stroke-width="1.3" />
<polyline points="568.0,740.0 568.0,755.0" fill="none" stroke="#2D63AE" stroke-width="1.3" />
<polyline points="558.0,731.0 558.0,760.0" fill="none" stroke="#2D63AE" stroke-width="1.5" />
<ellipse cx="563" cy="717" rx="6" ry="5" fill="#2D63AE"/>
<polygon points="628.0,738.0 640.0,733.0 650.0,738.0 655.0,748.0 648.0,753.0 630.0,744.0" fill="#2961AD" />
<polyline points="614.0,744.0 630.0,748.0" fill="none" stroke="#3A70B8" stroke-width="1.4" />
<polyline points="614.0,747.0 630.0,751.0" fill="none" stroke="#3A70B8" stroke-width="1.4" />
<polyline points="614.0,750.0 630.0,754.0" fill="none" stroke="#3A70B8" stroke-width="1.4" />
<polyline points="614.0,753.0 630.0,757.0" fill="none" stroke="#3A70B8" stroke-width="1.4" />
<polyline points="614.0,756.0 630.0,760.0" fill="none" stroke="#3A70B8" stroke-width="1.4" />
<ellipse cx="637" cy="767" rx="7" ry="5" fill="none" stroke="#2961AD" stroke-width="2"/>
<polygon points="452.0,875.0 470.0,866.0 516.0,887.0 498.0,897.0" fill="#1E55A2" />
<polygon points="462.0,862.0 483.0,852.0 483.0,882.0 462.0,890.0" fill="#DDE5F1" />
<polygon points="483.0,852.0 497.0,858.0 497.0,888.0 483.0,882.0" fill="#2C62AE" />
<polyline points="462.0,862.0 483.0,852.0 497.0,858.0" fill="none" stroke="#1E55A2" stroke-width="2" />
<polyline points="462.0,862.0 462.0,890.0" fill="none" stroke="#1E55A2" stroke-width="2" />
<polyline points="463.0,868.0 482.0,860.0" fill="none" stroke="#1E55A2" stroke-width="2" />
<polyline points="463.0,875.0 482.0,867.0" fill="none" stroke="#1E55A2" stroke-width="2" />
<polyline points="463.0,882.0 482.0,874.0" fill="none" stroke="#1E55A2" stroke-width="2" />
<polyline points="472.0,857.0 472.0,886.0" fill="none" stroke="#1E55A2" stroke-width="1.5" />
<ellipse cx="482" cy="842" rx="8" ry="6" fill="#2A62AE"/>
<polygon points="519.0,852.0 541.0,842.0 555.0,849.0 533.0,858.0" fill="#DCE5F2" />
<polygon points="519.0,852.0 533.0,858.0 533.0,877.0 519.0,871.0" fill="#2A61AD" />
<polygon points="533.0,858.0 555.0,849.0 555.0,868.0 533.0,877.0" fill="#2058A4" />
<polyline points="535.0,862.0 553.0,854.0" fill="none" stroke="#DCE5F2" stroke-width="1.3" />
<polyline points="535.0,867.0 553.0,859.0" fill="none" stroke="#DCE5F2" stroke-width="1.3" />
<polyline points="535.0,872.0 553.0,864.0" fill="none" stroke="#DCE5F2" stroke-width="1.3" />
<polyline points="522.0,858.0 522.0,868.0" fill="none" stroke="#DCE5F2" stroke-width="1.2" />
<polyline points="527.0,860.0 527.0,870.0" fill="none" stroke="#DCE5F2" stroke-width="1.2" />
<circle cx="523.9" cy="398.2" r="4" fill="none" stroke="#2159A5" stroke-width="2"/>
<ellipse cx="523.9" cy="409.9" rx="2.5" ry="3.5" fill="#2159A5"/>
<polyline points="538.0,403.3 583.5,425.0" fill="none" stroke="#2A5EA8" stroke-width="2.6" stroke-dasharray="2.5 1"/>
<polyline points="583.5,425.0 608.4,436.9" fill="none" stroke="#2A5EA8" stroke-width="2.2" stroke-dasharray="2.5 1"/>
<polyline points="538.0,409.0 565.1,422.0" fill="none" stroke="#2A5EA8" stroke-width="1.6" stroke-dasharray="2.5 1"/>
<polyline points="538.0,414.0 561.8,425.5" fill="none" stroke="#2A5EA8" stroke-width="1.6" stroke-dasharray="2.5 1"/>
<circle cx="860.4" cy="618.4" r="4" fill="none" stroke="#2159A5" stroke-width="2"/>
<ellipse cx="860.4" cy="630.7" rx="2.5" ry="3.5" fill="#2159A5"/>
<polyline points="874.8,625.2 911.2,642.6" fill="none" stroke="#2A5EA8" stroke-width="2.4" stroke-dasharray="2.5 1"/>
<polyline points="874.8,631.2 935.1,660.0" fill="none" stroke="#2A5EA8" stroke-width="2.2" stroke-dasharray="2.5 1"/>
<polyline points="874.8,636.8 920.8,658.8" fill="none" stroke="#2A5EA8" stroke-width="1.6" stroke-dasharray="2.5 1"/>
<polyline points="882.4,645.4 906.4,656.8" fill="none" stroke="#2A5EA8" stroke-width="1.4" stroke-dasharray="2.5 1"/>
<polyline points="741.0,476.0 751.0,481.0" fill="none" stroke="#E8EEF6" stroke-width="2.2" stroke-dasharray="1.5 1"/>
<polyline points="742.0,482.0 751.0,487.0" fill="none" stroke="#E8EEF6" stroke-width="1.2" stroke-dasharray="1 1"/>
<polyline points="759.0,487.0 770.0,493.0" fill="none" stroke="#E8EEF6" stroke-width="2.2" stroke-dasharray="1.5 1"/>
<polyline points="792.0,478.0 792.0,488.0" fill="none" stroke="#E8EEF6" stroke-width="1.3" />
<polyline points="795.0,482.0 803.0,478.0" fill="none" stroke="#E8EEF6" stroke-width="2" stroke-dasharray="1.5 1"/>
<g font-family="'Liberation Sans', sans-serif" fill="#0E0E0E">
<g font-weight="bold" stroke="#0E0E0E" stroke-width="0.9">
<text x="58.48" y="163.2" font-size="50.5" textLength="209.55" lengthAdjust="spacingAndGlyphs">SCALING</text>
<text x="281.38" y="163.2" font-size="50.5" textLength="142.75" lengthAdjust="spacingAndGlyphs">FROM</text>
<text x="58.99" y="222.2" font-size="50" textLength="356.01" lengthAdjust="spacingAndGlyphs">CONSIGNMENT</text>
<text x="427.49" y="222.2" font-size="50" textLength="66.09" lengthAdjust="spacingAndGlyphs">TO</text>
<text x="59.98" y="278.3" font-size="50.2" textLength="448.04" lengthAdjust="spacingAndGlyphs">INVENTORY-BASED</text>
<text x="58.48" y="332.8" font-size="52.6" textLength="276.06" lengthAdjust="spacingAndGlyphs">SOURCING</text>
</g>
<g fill="#1A1A1A" stroke="#1A1A1A">
<text x="55.99" y="77.5" font-size="13.6" stroke-width="0.35" textLength="74.51" lengthAdjust="spacingAndGlyphs">EDITORIAL</text>
<text x="137.43" y="77.5" font-size="13.6" stroke-width="0.35" textLength="42.12" lengthAdjust="spacingAndGlyphs">BLOG</text>
<text x="57.00" y="387.9" font-size="19.6" stroke-width="0.2" textLength="81.51" lengthAdjust="spacing">TRASTED</text>
<text x="144.40" y="387.9" font-size="19.6" stroke-width="0.2" textLength="59.71" lengthAdjust="spacing">FROM</text>
<text x="210.48" y="387.9" font-size="19.6" stroke-width="0.2" textLength="136.53" lengthAdjust="spacing">CONGINMENT</text>
<text x="359.97" y="387.9" font-size="19.6" stroke-width="0.2" textLength="26.11" lengthAdjust="spacing">TO</text>
<text x="55.70" y="411.2" font-size="19.6" stroke-width="0.2" textLength="23.95" lengthAdjust="spacing">IN</text>
<text x="85.98" y="411.2" font-size="19.6" stroke-width="0.2" textLength="186.53" lengthAdjust="spacing">IIVENTORY&#8211;BASED</text>
<text x="279.96" y="411.2" font-size="19.6" stroke-width="0.2" textLength="103.58" lengthAdjust="spacing">SOURCING</text>
</g>
</g>
<rect x="57" y="430" width="160.6" height="3" fill="#D4A25C"/>
</svg>
</body></html>
